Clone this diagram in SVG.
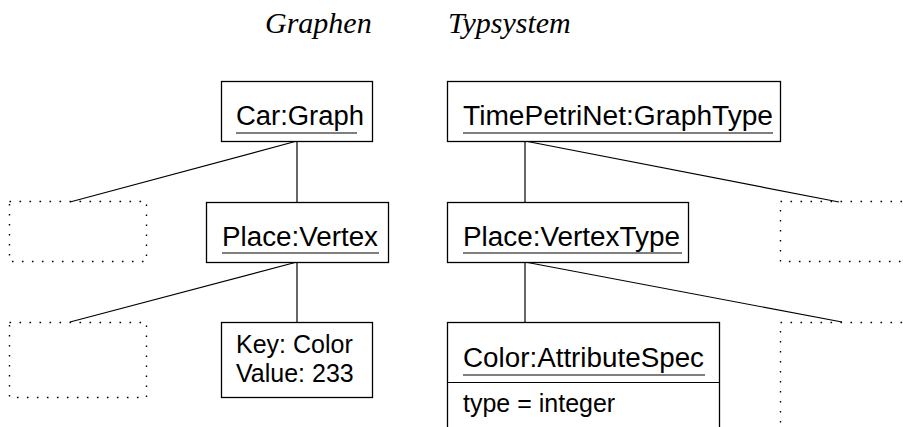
<svg xmlns="http://www.w3.org/2000/svg" width="903" height="427" viewBox="0 0 903 427">
  <style>
    .box { fill: #fff; stroke: #000; stroke-width: 1.3; }
    .ghost { fill: none; stroke: #000; stroke-width: 1.4; stroke-dasharray: 1.6 8.4; }
    .edge { fill: none; stroke: #000; stroke-width: 1.2; }
    .ul { stroke: #000; stroke-width: 1.2; }
    .name { font-family: "Liberation Sans", Arial, sans-serif; font-size: 27px; fill: #000; }
    .attr { font-family: "Liberation Sans", Arial, sans-serif; font-size: 25px; fill: #000; }
    .title { font-family: "Liberation Serif", "Times New Roman", serif; font-style: italic; font-size: 30px; fill: #000; }
  </style>

  <rect width="903" height="427" fill="#fff"/>

  <g id="titles">
    <text class="title" x="265" y="33">Graphen</text>
    <text class="title" x="448" y="33">Typsystem</text>
  </g>

  <g id="connectors">
    <line class="edge" x1="297" y1="141" x2="297" y2="202"/>
    <line class="edge" x1="297" y1="141" x2="70" y2="202"/>
    <line class="edge" x1="297" y1="262" x2="297" y2="322"/>
    <line class="edge" x1="297" y1="262" x2="70" y2="322"/>
    <line class="edge" x1="525" y1="141" x2="525" y2="202"/>
    <line class="edge" x1="525" y1="141" x2="839" y2="202"/>
    <line class="edge" x1="525" y1="262" x2="525" y2="322"/>
    <line class="edge" x1="525" y1="262" x2="842" y2="322"/>
  </g>

  <g id="ghost-left-1"><rect class="ghost" x="9.5" y="201.5" width="137" height="60"/></g>
  <g id="ghost-left-2"><rect class="ghost" x="9.5" y="322.5" width="137" height="75"/></g>
  <g id="ghost-right-1"><rect class="ghost" x="780.5" y="201.5" width="140" height="60"/></g>
  <g id="ghost-right-2"><rect class="ghost" x="780.5" y="322.5" width="140" height="120"/></g>

  <g id="car-graph">
    <rect class="box" x="221.5" y="81.5" width="151" height="60"/>
    <text class="name" x="236" y="125" textLength="128" lengthAdjust="spacingAndGlyphs">Car:Graph</text>
    <line class="ul" x1="236" y1="133" x2="357" y2="133"/>
  </g>

  <g id="place-vertex">
    <rect class="box" x="206.5" y="202.5" width="182" height="60"/>
    <text class="name" x="222" y="246" textLength="156" lengthAdjust="spacingAndGlyphs">Place:Vertex</text>
    <line class="ul" x1="222" y1="253" x2="379" y2="253"/>
  </g>

  <g id="key-value">
    <rect class="box" x="221.5" y="322.5" width="151" height="75"/>
    <text class="attr" x="236" y="353">Key: Color</text>
    <text class="attr" x="236" y="382">Value: 233</text>
  </g>

  <g id="timepetrinet-graphtype">
    <rect class="box" x="447.5" y="81.5" width="333" height="60"/>
    <text class="name" x="463" y="125" textLength="310" lengthAdjust="spacingAndGlyphs">TimePetriNet:GraphType</text>
    <line class="ul" x1="463" y1="133" x2="773" y2="133"/>
  </g>

  <g id="place-vertextype">
    <rect class="box" x="447.5" y="202.5" width="241" height="60"/>
    <text class="name" x="463" y="246" textLength="217" lengthAdjust="spacingAndGlyphs">Place:VertexType</text>
    <line class="ul" x1="463" y1="253" x2="682" y2="253"/>
  </g>

  <g id="color-attributespec">
    <rect class="box" x="447.5" y="322.5" width="272" height="120"/>
    <line class="ul" x1="447.5" y1="382.5" x2="719.5" y2="382.5"/>
    <text class="name" x="463" y="367" textLength="241" lengthAdjust="spacingAndGlyphs">Color:AttributeSpec</text>
    <line class="ul" x1="463" y1="375" x2="705" y2="375"/>
    <text class="attr" x="463" y="412">type = integer</text>
  </g>
</svg>
